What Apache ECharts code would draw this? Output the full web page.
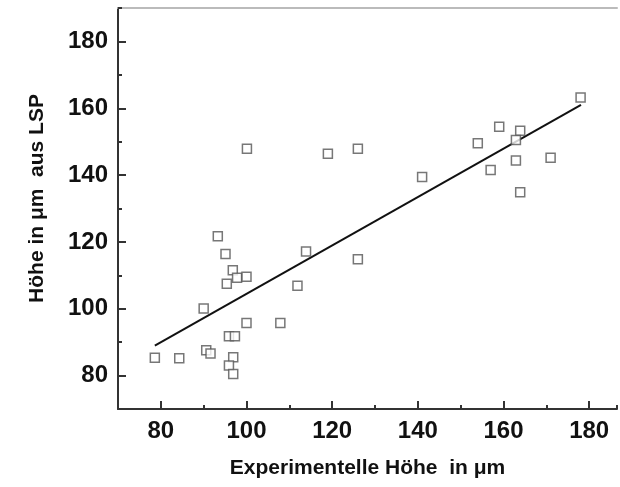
<!doctype html>
<html>
<head>
    <meta charset="utf-8">
    <title>Höhe LSP</title>
    <style>
        html, body { margin: 0; padding: 0; background: #fff; }
        #main { width: 620px; height: 487px; }
    </style>
</head>
<body>
    <div id="main"></div>
</body>
<script src="https://cdn.jsdelivr.net/npm/echarts@6/dist/echarts.min.js"></script>
<script type="text/javascript">
    // Messpunkte: experimentelle Hoehe (x) und Hoehe aus LSP (y)
    var expHoehe = [93.3, 95.1, 96.8, 97.8, 100.0, 95.4, 90.0, 113.9, 111.9, 100.0,
        107.9, 95.9, 97.3, 78.6, 84.3, 90.6, 91.6, 96.9, 95.9, 96.9,
        100.1, 119.0, 126.0, 141.0, 154.0, 159.0, 163.9, 162.9, 157.0, 162.9,
        171.0, 163.9, 178.0, 126.0];
    var lspHoehe = [121.7, 116.4, 111.5, 109.3, 109.6, 107.5, 100.1, 117.1, 106.9, 95.7,
        95.7, 91.8, 91.8, 85.3, 85.2, 87.6, 86.6, 85.5, 83.0, 80.5,
        147.9, 146.4, 147.9, 139.4, 149.5, 154.5, 153.3, 150.5, 141.5, 144.4,
        145.2, 134.9, 163.2, 114.8];
    // Ausgleichsgerade (Endpunkte)
    var fitX = [78.6, 178.1];
    var fitY = [89.0, 161.0];
    var xTicks = [80, 100, 120, 140, 160, 180];
    var yTicks = [80, 100, 120, 140, 160, 180];

    var punkte = [];
    for (var i = 0; i < expHoehe.length; i++) {
        punkte.push([expHoehe[i], lspHoehe[i]]);
    }
    var gerade = [];
    for (var j = 0; j < fitX.length; j++) {
        gerade.push([fitX[j], fitY[j]]);
    }

    var fontFam = '"Liberation Sans", Arial, sans-serif';
    var achse = { color: '#333', width: 2 };
    var xMin = 70, xMax = 186.5, yMin = 70, yMax = 190;

    var myChart = echarts.init(document.getElementById('main'));
    var option = {
        animation: false,
        grid: { left: 118, top: 8, right: 0, bottom: 78 },
        xAxis: [{
            // Hauptachse mit kurzen Ticks alle 10
            type: 'value',
            position: 'bottom',
            min: xMin, max: xMax, interval: 10,
            name: 'Experimentelle Höhe  in μm',
            nameLocation: 'middle',
            nameGap: 49,
            nameTextStyle: { fontFamily: fontFam, fontWeight: 'bold', fontSize: 21, color: '#111' },
            axisLine: { lineStyle: achse },
            axisTick: { inside: true, length: 4, lineStyle: achse },
            axisLabel: {
                margin: 10, fontFamily: fontFam, fontWeight: 'bold', fontSize: 24, color: '#111',
                formatter: function (v) { return xTicks.indexOf(v) >= 0 ? String(v) : ''; }
            },
            splitLine: { show: false }
        }, {
            // grauer Rahmen oben
            type: 'value',
            position: 'top',
            min: xMin, max: xMax,
            axisLine: { show: true, lineStyle: { color: '#bbb', width: 2 } },
            axisTick: { show: false },
            axisLabel: { show: false },
            splitLine: { show: false }
        }, {
            // lange Ticks an den beschrifteten Werten
            type: 'value',
            position: 'bottom',
            min: xMin, max: xMax, interval: 10,
            axisLine: { show: false },
            axisTick: { inside: true, length: 8, lineStyle: achse, customValues: xTicks },
            axisLabel: { show: false },
            splitLine: { show: false }
        }],
        yAxis: [{
            type: 'value',
            position: 'left',
            min: yMin, max: yMax, interval: 10,
            name: 'Höhe in μm  aus LSP',
            nameLocation: 'middle',
            nameGap: 70,
            nameTextStyle: { fontFamily: fontFam, fontWeight: 'bold', fontSize: 21, color: '#111', padding: [0, 0, 0, 20] },
            axisLine: { show: true, lineStyle: achse },
            axisTick: { inside: true, length: 4, lineStyle: achse },
            axisLabel: {
                margin: 10, fontFamily: fontFam, fontWeight: 'bold', fontSize: 24, color: '#111',
                formatter: function (v) { return yTicks.indexOf(v) >= 0 ? String(v) : ''; }
            },
            splitLine: { show: false }
        }, {
            type: 'value',
            position: 'left',
            min: yMin, max: yMax, interval: 10,
            axisLine: { show: false },
            axisTick: { inside: true, length: 8, lineStyle: achse, customValues: yTicks },
            axisLabel: { show: false },
            splitLine: { show: false }
        }],
        series: [{
            type: 'line',
            data: gerade,
            symbol: 'none',
            lineStyle: { color: '#111', width: 2 },
            z: 2
        }, {
            type: 'scatter',
            data: punkte,
            symbol: 'rect',
            symbolSize: 9,
            itemStyle: { color: '#fff', borderColor: '#555', borderWidth: 1.5 },
            z: 3
        }]
    };
    myChart.setOption(option);
</script>
</html>
